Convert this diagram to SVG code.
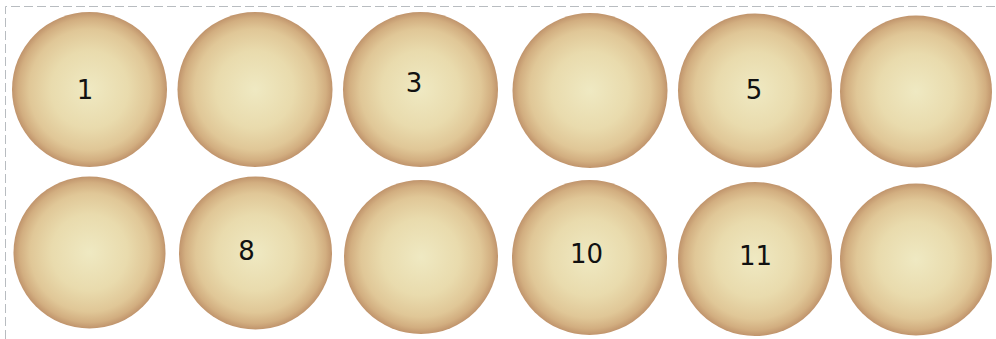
<svg xmlns="http://www.w3.org/2000/svg" width="996" height="339" viewBox="0 0 996 339">
<style>
.dish{fill:url(#g);}
.lbl{font-family:"DejaVu Sans","Liberation Sans",sans-serif;font-size:26px;fill:#111111;text-anchor:middle;}
.frame{fill:none;stroke:#b8bcc0;stroke-width:1;stroke-dasharray:9 4;}
</style>
<defs>
<radialGradient id="g" cx="50%" cy="50%" r="50%">
<stop offset="0" stop-color="#efe9c2"/>
<stop offset="0.5" stop-color="#e9dbad"/>
<stop offset="0.78" stop-color="#e0c797"/>
<stop offset="0.92" stop-color="#d2ae80"/>
<stop offset="1" stop-color="#c0946c"/>
</radialGradient>
</defs>
<rect width="996" height="339" fill="#ffffff"/>
<path class="frame" d="M5.5,339 V6.5 H996"/>
<g id="well1"><circle class="dish" cx="89.5" cy="89.5" r="77.5"/><text class="lbl" x="85" y="99">1</text></g>
<g id="well2"><circle class="dish" cx="255" cy="89.5" r="77.5"/></g>
<g id="well3"><circle class="dish" cx="420.5" cy="89.5" r="77.5"/><text class="lbl" x="414" y="92">3</text></g>
<g id="well4"><circle class="dish" cx="590" cy="90.5" r="77.5"/></g>
<g id="well5"><circle class="dish" cx="755" cy="90.5" r="77"/><text class="lbl" x="754" y="99">5</text></g>
<g id="well6"><circle class="dish" cx="916" cy="91.5" r="76"/></g>
<g id="well7"><circle class="dish" cx="89.5" cy="252.5" r="76"/></g>
<g id="well8"><circle class="dish" cx="255.5" cy="253" r="76.5"/><text class="lbl" x="246.5" y="260">8</text></g>
<g id="well9"><circle class="dish" cx="421" cy="257" r="77"/></g>
<g id="well10"><circle class="dish" cx="589.5" cy="257.5" r="77.5"/><text class="lbl" x="586.5" y="263">10</text></g>
<g id="well11"><circle class="dish" cx="755" cy="259" r="77"/><text class="lbl" x="755.5" y="265">11</text></g>
<g id="well12"><circle class="dish" cx="916" cy="259.5" r="76"/></g>
</svg>
